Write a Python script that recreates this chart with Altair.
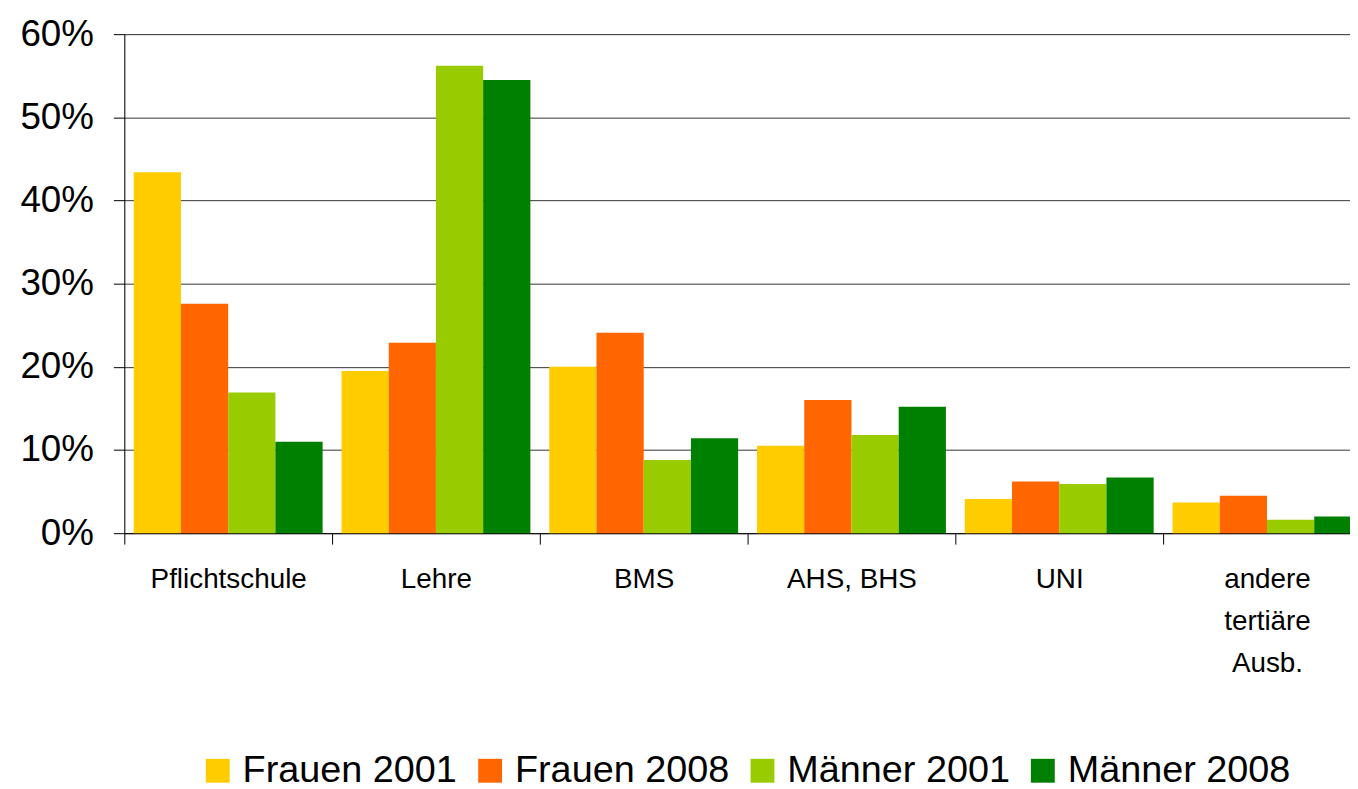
import altair as alt
import pandas as pd

categories = ["Pflichtschule", "Lehre", "BMS", "AHS, BHS", "UNI", "andere\ntertiäre\nAusb."]
series = ["Frauen 2001", "Frauen 2008", "Männer 2001", "Männer 2008"]
colors = ["#FFCC00", "#FF6600", "#99CC00", "#008000"]

frauen_2001 = [43.4, 19.5, 20.0, 10.5, 4.1, 3.7]
frauen_2008 = [27.6, 22.9, 24.1, 16.0, 6.2, 4.5]
maenner_2001 = [16.9, 56.2, 8.8, 11.8, 5.9, 1.6]
maenner_2008 = [11.0, 54.5, 11.4, 15.2, 6.7, 2.0]

y_ticks = [0, 10, 20, 30, 40, 50, 60]

values_by_series = [frauen_2001, frauen_2008, maenner_2001, maenner_2008]
rows = []
for s, vals in zip(series, values_by_series):
    for c, v in zip(categories, vals):
        rows.append({"Kategorie": c, "Serie": s, "Wert": v})
df = pd.DataFrame(rows)

FONT = "Liberation Sans"

chart = alt.Chart(df).mark_bar().encode(
    x=alt.X(
        "Kategorie:N",
        sort=categories,
        scale=alt.Scale(range=[0, 1254], paddingInner=0, paddingOuter=0),
        axis=alt.Axis(
            title=None,
            labelAngle=0,
            labelFontSize=28,
            labelFont=FONT,
            labelColor="black",
            labelPadding=22,
            labelLineHeight=42,
            labelLimit=400,
            labelExpr="split(datum.label, '\\n')",
            tickBand="extent",
            tickSize=11,
            tickColor="black",
            domainColor="black",
            grid=False,
        ),
    ),
    xOffset=alt.XOffset(
        "Serie:N",
        sort=series,
        scale=alt.Scale(paddingInner=0, paddingOuter=0.2),
    ),
    y=alt.Y(
        "Wert:Q",
        scale=alt.Scale(domain=[0, 60], nice=False),
        axis=alt.Axis(
            title=None,
            values=y_ticks,
            labelExpr="datum.value + '%'",
            labelFontSize=37,
            labelFont=FONT,
            labelColor="black",
            labelPadding=20,
            tickSize=11,
            tickColor="black",
            domainColor="black",
            grid=True,
            gridColor="#333333",
            gridWidth=1,
        ),
    ),
    color=alt.Color(
        "Serie:N",
        sort=series,
        scale=alt.Scale(domain=series, range=colors),
        legend=alt.Legend(
            title=None,
            orient="none",
            legendX=75,
            legendY=722,
            direction="horizontal",
            columns=4,
            symbolType="square",
            symbolSize=576,
            symbolStrokeWidth=0,
            labelFontSize=38,
            labelFont=FONT,
            labelColor="black",
            labelOffset=6,
            columnPadding=14,
            labelLimit=400,
            padding=0,
        ),
    ),
).properties(
    width=1233,
    height=502,
    autosize=alt.AutoSizeParams(type="none"),
    padding={"left": 117, "top": 24, "right": 0, "bottom": 249},
).configure_view(stroke=None).configure(font=FONT)

chart.save("out.html", embed_options={"renderer": "svg", "actions": False})
